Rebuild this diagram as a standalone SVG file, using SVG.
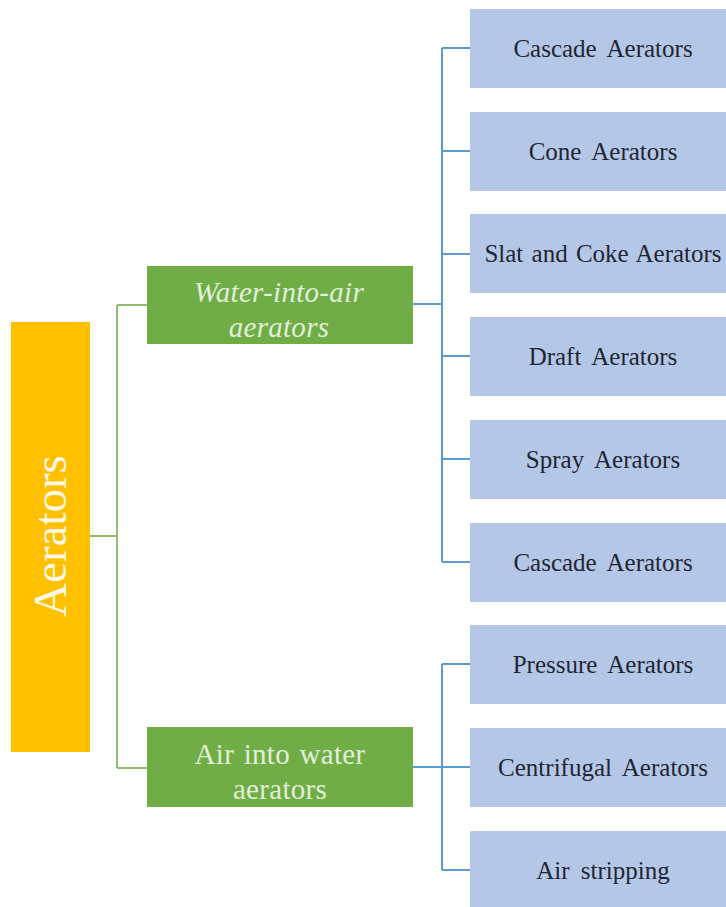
<svg xmlns="http://www.w3.org/2000/svg" width="726" height="907" viewBox="0 0 726 907">
<style>
.root{fill:#ffc000}
.mid{fill:#70ad47}
.leaf{fill:#b4c7e7}
.gl{stroke:#8fbc6e;stroke-width:2;fill:none}
.bl{stroke:#5b9bd5;stroke-width:2;fill:none}
text{font-family:'Liberation Serif','DejaVu Serif',serif}
.tl{font-size:25px;fill:#1f2633;text-anchor:middle;word-spacing:5px}
.tm{font-size:29px;fill:#e2efd9;text-anchor:middle;letter-spacing:0.3px}
.tr{font-size:47px;fill:#fff8e6;text-anchor:middle}
</style>
<rect width="726" height="907" fill="#ffffff"/>
<g id="connectors">
<path class="gl" d="M90 536 H117 M117 305 V768 M117 305 H147 M117 768 H147"/>
<path class="bl" d="M413 304 H442 M442 48 V562 M442 48 H470 M442 151 H470 M442 254 H470 M442 356 H470 M442 459 H470 M442 562 H470"/>
<path class="bl" d="M413 767 H442 M442 664 V870 M442 664 H470 M442 767 H470 M442 870 H470"/>
</g>
<g id="aerators">
<rect class="root" x="11" y="322" width="79" height="430"/>
<text class="tr" transform="translate(66 536) rotate(-90)">Aerators</text>
</g>
<g id="water-into-air">
<rect class="mid" x="147" y="266" width="266" height="78"/>
<text class="tm" x="279" y="302" font-style="italic">Water-into-air</text>
<text class="tm" x="279" y="337" font-style="italic">aerators</text>
</g>
<g id="air-into-water">
<rect class="mid" x="147" y="727" width="266" height="80"/>
<text class="tm" x="280" y="764" style="word-spacing:2px">Air into water</text>
<text class="tm" x="280" y="799">aerators</text>
</g>
<g id="cascade1"><rect class="leaf" x="470" y="9" width="260" height="79"/><text class="tl" x="603" y="57">Cascade Aerators</text></g>
<g id="cone"><rect class="leaf" x="470" y="112" width="260" height="79"/><text class="tl" x="603" y="160">Cone Aerators</text></g>
<g id="slat"><rect class="leaf" x="470" y="214" width="260" height="79"/><text class="tl" x="603" y="262" style="word-spacing:2px">Slat and Coke Aerators</text></g>
<g id="draft"><rect class="leaf" x="470" y="317" width="260" height="79"/><text class="tl" x="603" y="365">Draft Aerators</text></g>
<g id="spray"><rect class="leaf" x="470" y="420" width="260" height="79"/><text class="tl" x="603" y="468">Spray Aerators</text></g>
<g id="cascade2"><rect class="leaf" x="470" y="523" width="260" height="79"/><text class="tl" x="603" y="571">Cascade Aerators</text></g>
<g id="pressure"><rect class="leaf" x="470" y="625" width="260" height="79"/><text class="tl" x="603" y="673">Pressure Aerators</text></g>
<g id="centrifugal"><rect class="leaf" x="470" y="728" width="260" height="79"/><text class="tl" x="603" y="776">Centrifugal Aerators</text></g>
<g id="air-stripping"><rect class="leaf" x="470" y="831" width="260" height="79"/><text class="tl" x="603" y="879">Air stripping</text></g>
</svg>
